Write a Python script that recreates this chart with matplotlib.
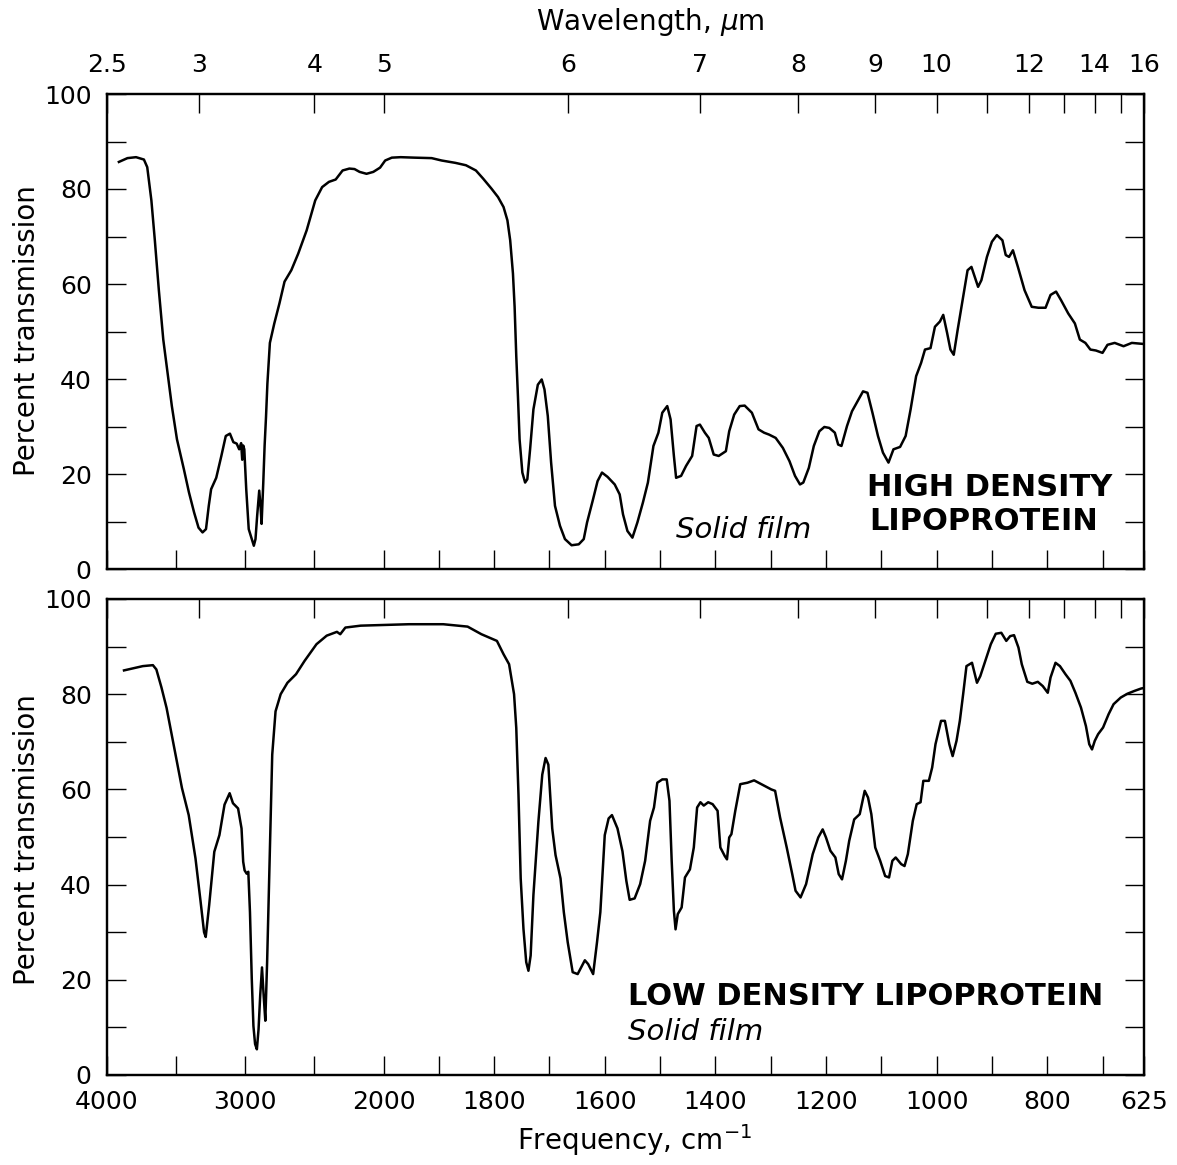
import numpy as np
import matplotlib
matplotlib.use("Agg")
import matplotlib.pyplot as plt

plt.rcParams['font.family'] = ['DejaVu Sans']
plt.rcParams['mathtext.fontset'] = 'dejavusans'

# ---------------- data ----------------
hdl_wavenumber = [3914, 3852, 3790, 3733, 3709, 3679, 3654, 3625, 3593, 3568, 3531, 3494, 3444,
                  3407, 3370, 3338, 3309, 3284, 3264, 3247, 3210, 3173, 3141, 3111, 3086, 3062,
                  3044, 3030, 3022, 3015, 3007, 2993, 2975, 2956, 2938, 2926, 2914, 2899, 2889,
                  2882, 2870, 2860, 2850, 2840, 2822, 2790, 2753, 2716, 2667, 2617, 2556, 2494,
                  2444, 2395, 2346, 2296, 2247, 2210, 2173, 2123, 2074, 2025, 1997, 1985, 1969,
                  1944, 1913, 1895, 1870, 1851, 1833, 1820, 1805, 1793, 1783, 1776, 1771, 1766,
                  1763, 1760, 1757, 1754, 1749, 1744, 1740, 1735, 1729, 1721, 1714, 1709, 1703,
                  1697, 1690, 1681, 1672, 1660, 1647, 1638, 1632, 1622, 1613, 1605, 1595, 1582,
                  1573, 1567, 1559, 1550, 1541, 1531, 1522, 1512, 1503, 1496, 1487, 1481, 1475,
                  1471, 1462, 1453, 1442, 1434, 1428, 1419, 1412, 1403, 1394, 1381, 1375, 1366,
                  1356, 1347, 1334, 1322, 1312, 1303, 1291, 1278, 1266, 1256, 1247, 1241, 1231,
                  1222, 1212, 1203, 1194, 1184, 1178, 1172, 1162, 1153, 1141, 1133, 1125, 1116,
                  1106, 1097, 1087, 1078, 1066, 1056, 1047, 1037, 1028, 1021, 1011, 1003, 994,
                  988, 981, 975, 969, 962, 953, 944, 937, 931, 925, 919, 909, 900, 891, 881, 875,
                  869, 862, 853, 841, 828, 816, 803, 794, 784, 775, 762, 750, 741, 731, 722, 712,
                  700, 691, 678, 662, 647, 628]
hdl_transmission = [85.7, 86.5, 86.7, 86.2, 84.6, 77.6, 69.2, 58.7, 48.3, 42.7, 34.3, 27.3, 21.0,
                    16.1, 11.9, 8.7, 7.7, 8.4, 13.3, 16.8, 19.2, 23.8, 28.0, 28.5, 26.7, 26.4,
                    25.2, 26.5, 23.0, 26.0, 25.2, 16.8, 8.4, 6.6, 4.9, 6.3, 11.2, 16.5, 13.0,
                    9.5, 18.0, 26.0, 32.0, 39.0, 47.6, 51.7, 55.9, 60.5, 62.9, 66.4, 71.3, 77.6,
                    80.4, 81.5, 82.0, 83.9, 84.3, 84.2, 83.6, 83.2, 83.6, 84.5, 86.0, 86.6, 86.7,
                    86.6, 86.5, 86.0, 85.5, 85.0, 83.9, 82.2, 80.1, 78.3, 76.2, 73.4, 69.2, 62.2,
                    55.2, 44.8, 36.4, 27.3, 20.3, 18.2, 18.9, 25.2, 33.6, 38.8, 39.9, 37.8, 32.2,
                    22.4, 13.3, 9.1, 6.3, 5.0, 5.2, 6.3, 9.8, 14.3, 18.5, 20.3, 19.4, 17.8,
                    15.7, 11.5, 8.0, 6.6, 9.8, 14.0, 18.2, 25.9, 28.7, 32.9, 34.3, 31.5, 23.8,
                    19.2, 19.6, 21.7, 23.8, 30.1, 30.4, 28.7, 27.6, 24.1, 23.8, 24.8, 29.0, 32.5,
                    34.3, 34.4, 32.9, 29.4, 28.7, 28.3, 27.6, 25.5, 22.7, 19.6, 17.8, 18.2, 21.3,
                    25.9, 29.0, 29.9, 29.7, 28.7, 26.2, 25.9, 30.1, 33.2, 35.7, 37.4, 37.1, 32.9,
                    28.0, 24.5, 22.4, 25.2, 25.7, 28.0, 33.6, 40.6, 43.4, 46.2, 46.5, 51.0, 52.1,
                    53.5, 49.7, 46.2, 45.1, 50.3, 56.6, 62.9, 63.6, 61.5, 59.4, 60.8, 65.7, 68.9,
                    70.3, 69.2, 66.1, 65.7, 67.1, 63.6, 58.7, 55.2, 55.0, 55.0, 57.7, 58.4, 56.6,
                    53.8, 51.7, 48.3, 47.6, 46.2, 46.0, 45.5, 47.2, 47.6, 46.9, 47.6, 47.4]

ldl_wavenumber = [3877, 3815, 3741, 3668, 3643, 3606, 3569, 3532, 3495, 3458, 3409, 3360, 3323,
                  3298, 3286, 3261, 3224, 3187, 3150, 3113, 3089, 3052, 3027, 3015, 3005, 2990,
                  2978, 2966, 2953, 2941, 2929, 2916, 2904, 2892, 2879, 2867, 2855, 2842, 2830,
                  2818, 2805, 2781, 2744, 2695, 2633, 2571, 2485, 2411, 2337, 2313, 2276, 2165,
                  1986, 1954, 1892, 1848, 1823, 1795, 1783, 1773, 1764, 1760, 1756, 1752, 1747,
                  1742, 1738, 1734, 1729, 1720, 1713, 1707, 1702, 1695, 1689, 1680, 1674, 1667,
                  1658, 1649, 1636, 1630, 1621, 1614, 1608, 1600, 1593, 1587, 1577, 1568, 1561,
                  1555, 1546, 1536, 1527, 1518, 1511, 1505, 1496, 1488, 1483, 1479, 1475, 1472,
                  1468, 1461, 1455, 1446, 1439, 1433, 1427, 1421, 1413, 1405, 1396, 1391, 1383,
                  1379, 1375, 1371, 1364, 1355, 1342, 1330, 1317, 1299, 1292, 1283, 1271, 1261,
                  1255, 1246, 1236, 1224, 1214, 1206, 1200, 1192, 1183, 1177, 1171, 1164, 1158,
                  1149, 1139, 1130, 1124, 1118, 1111, 1102, 1093, 1086, 1080, 1074, 1064, 1058,
                  1052, 1043, 1036, 1029, 1024, 1014, 1008, 1002, 992, 985, 977, 971, 964, 958,
                  952, 946, 936, 927, 921, 911, 902, 893, 883, 874, 867, 860, 852, 846, 836, 827,
                  817, 808, 799, 794, 785, 777, 767, 758, 749, 739, 730, 724, 719, 714, 708, 699,
                  689, 680, 667, 655, 642, 630, 625]
ldl_transmission = [85.0, 85.4, 85.9, 86.1, 85.2, 81.4, 77.1, 71.5, 65.9, 60.3, 54.6, 45.5, 36.4,
                    30.0, 29.0, 35.7, 46.9, 50.4, 56.8, 59.2, 57.1, 56.0, 51.8, 44.8, 43.0, 42.3,
                    42.7, 34.2, 20.2, 10.3, 6.5, 5.4, 9.6, 16.7, 22.6, 16.7, 11.4, 23.7, 37.8,
                    51.8, 67.3, 76.4, 80.0, 82.4, 84.2, 87.0, 90.5, 92.3, 93.1, 92.6, 94.0, 94.4,
                    94.6, 94.7, 94.7, 94.2, 92.6, 91.2, 88.4, 86.3, 80.0, 72.9, 58.9, 41.3, 30.7,
                    23.7, 21.9, 25.1, 37.8, 53.2, 63.1, 66.6, 65.2, 51.8, 46.2, 41.3, 34.2, 27.9,
                    21.6, 21.2, 24.1, 23.3, 21.2, 27.9, 34.2, 50.4, 53.9, 54.6, 51.8, 47.0, 40.8,
                    36.8, 37.1, 40.1, 45.0, 53.4, 56.2, 61.4, 62.1, 62.1, 57.6, 45.0, 34.5, 30.6,
                    33.8, 35.2, 41.5, 43.2, 47.8, 56.2, 57.3, 56.6, 57.3, 56.9, 55.5, 47.8, 46.0,
                    45.3, 49.9, 50.6, 55.5, 61.1, 61.4, 61.9, 61.1, 60.0, 59.7, 54.1, 47.8, 42.2,
                    38.7, 37.3, 40.1, 46.4, 49.9, 51.6, 49.9, 47.1, 45.7, 42.2, 41.1, 45.0, 49.2,
                    53.7, 54.8, 59.7, 58.3, 54.8, 47.8, 45.0, 41.8, 41.5, 45.0, 45.7, 44.3, 43.9,
                    46.4, 53.4, 56.9, 57.3, 61.8, 61.8, 64.6, 69.5, 74.4, 74.4, 69.5, 67.0, 70.2, 74.4,
                    80.0, 85.9, 86.6, 82.4, 83.8, 87.3, 90.5, 92.7, 92.9, 91.2, 92.2, 92.4, 89.8, 86.3, 82.6, 82.2,
                    82.6, 81.7, 80.3, 83.5, 86.6, 85.9, 84.2, 82.8, 80.3, 77.2, 73.3, 69.5, 68.4, 70.2, 71.6, 73.0,
                    75.8, 77.9, 79.3, 80.1, 80.7, 81.2, 81.3]

freq_ticks = [4000, 3500, 3000, 2500, 2000, 1900, 1800, 1700, 1600, 1500, 1400, 1300,
              1200, 1100, 1000, 900, 800, 700, 625]
freq_labels = ['4000', '', '3000', '', '2000', '', '1800', '', '1600', '', '1400', '',
               '1200', '', '1000', '', '800', '', '625']
wavelength_ticks = [2.5, 3, 4, 5, 6, 7, 8, 9, 10, 11, 12, 13, 14, 15, 16]
wavelength_labels = ['2.5', '3', '4', '5', '6', '7', '8', '9', '10', '', '12', '', '14', '', '16']
percent_ticks = [0, 10, 20, 30, 40, 50, 60, 70, 80, 90, 100]
percent_labels = ['0', '', '20', '', '40', '', '60', '', '80', '', '100']


# grating-change chart scale: linear in cm-1, 4x expanded below 2000 cm-1
def fwd(v):
    v = np.asarray(v, dtype=float)
    return np.where(v >= 2000, v, 4.0 * v - 6000.0)


def inv(u):
    u = np.asarray(u, dtype=float)
    return np.where(u >= 2000, u, (u + 6000.0) / 4.0)


W, H = 1177, 1165
fig = plt.figure(figsize=(W / 100, H / 100), dpi=100)
fig.patch.set_facecolor('white')


def rect(l, t, r, b):
    return [l / W, 1 - b / H, (r - l) / W, (b - t) / H]


TL = 13.5
TICK_FS = 18


def panel(ax, wn, tr, label_top, label_bottom):
    ax.set_xscale('function', functions=(fwd, inv))
    ax.set_xlim(4000, 625)
    ax.set_ylim(0, 100)
    ax.plot(wn, tr, color='black', lw=1.8, solid_joinstyle='round')
    ax.set_xticks(freq_ticks, labels=freq_labels if label_bottom else [''] * len(freq_ticks))
    ax.set_yticks(percent_ticks, labels=percent_labels)
    ax.tick_params(axis='x', direction='in', length=TL, width=1.0, labelsize=TICK_FS, pad=11,
                   bottom=True, top=False)
    ax.tick_params(axis='y', direction='in', length=TL, width=1.0, labelsize=TICK_FS, pad=11,
                   left=True, right=True)
    for s in ax.spines.values():
        s.set_linewidth(1.6)
    tw = ax.twiny()
    tw.set_xscale('function', functions=(fwd, inv))
    tw.set_xlim(4000, 625)
    tw.set_xticks([1e4 / l for l in wavelength_ticks],
                  labels=wavelength_labels if label_top else [''] * len(wavelength_ticks))
    tw.tick_params(axis='x', direction='in', length=TL, width=1.0, labelsize=TICK_FS, pad=12,
                   top=True, bottom=False)
    for s in tw.spines.values():
        s.set_linewidth(1.6)
    return tw


ax1 = fig.add_axes(rect(107, 94, 1144, 569))
ax2 = fig.add_axes(rect(107, 599, 1144, 1075))
panel(ax1, hdl_wavenumber, hdl_transmission, True, False)
panel(ax2, ldl_wavenumber, ldl_transmission, False, True)

ax1.text(0.733, 0.171, 'HIGH DENSITY', transform=ax1.transAxes, fontsize=22,
         fontweight='bold', ha='left', va='center')
ax1.text(0.735, 0.099, 'LIPOPROTEIN', transform=ax1.transAxes, fontsize=22,
         fontweight='bold', ha='left', va='center')
ax1.text(0.549, 0.082, 'Solid film', transform=ax1.transAxes, fontsize=21,
         style='italic', ha='left', va='center')

ax2.text(0.502, 0.164, 'LOW DENSITY LIPOPROTEIN', transform=ax2.transAxes, fontsize=22,
         fontweight='bold', ha='left', va='center')
ax2.text(0.502, 0.091, 'Solid film', transform=ax2.transAxes, fontsize=21,
         style='italic', ha='left', va='center')

fig.text(650 / W, 1 - 22 / H, r'Wavelength, $\mu$m', fontsize=20, ha='center', va='center')
fig.text(635 / W, 1 - 1140 / H, r'Frequency, cm$^{-1}$', fontsize=20, ha='center', va='center')
fig.text(27 / W, 1 - 331 / H, 'Percent transmission', fontsize=20, rotation=90,
         ha='center', va='center')
fig.text(27 / W, 1 - 840 / H, 'Percent transmission', fontsize=20, rotation=90,
         ha='center', va='center')

fig.savefig('out.png', dpi=100, facecolor='white')
